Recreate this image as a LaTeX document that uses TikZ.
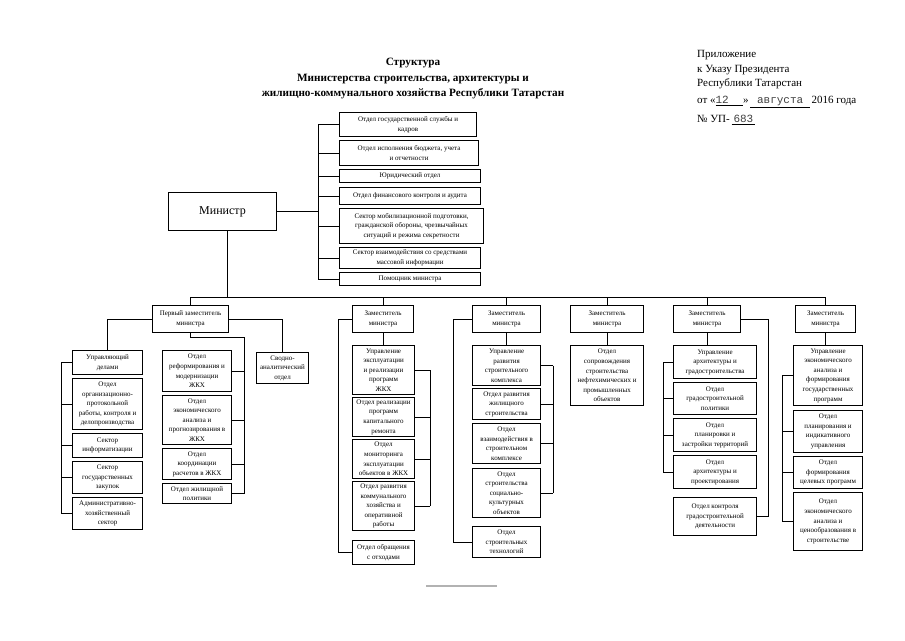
\documentclass[tikz,border=0pt]{standalone}
\usepackage{fontspec}
\setmainfont{Liberation Serif}
\newfontfamily\monof{Liberation Mono}
\newcommand{\obox}[6]{\node[box,minimum width={(#4-#2)*1pt},minimum height={(#5-#3)*1pt}] (#1) at (#2,#3) {#6};}
\begin{document}
\begin{tikzpicture}[x=1pt,y=-1pt,
  box/.style={draw,line width=1.1pt,align=center,inner sep=0.5pt,anchor=north west,font=\fontsize{7}{9.6}\selectfont},
  conn/.style={line width=0.8pt},
  hdr/.style={anchor=west,inner sep=0pt,font=\fontsize{11}{13}\selectfont}]
\useasboundingbox[fill=white] (0,0) rectangle (905,640);

% header
\node[font=\bfseries\fontsize{11.2}{15.5}\selectfont,align=center] (title) at (413,78.5)
  {Структура\\Министерства строительства, архитектуры и\\жилищно-коммунального хозяйства Республики Татарстан};
\node[hdr] (h1) at (697,55) {Приложение};
\node[hdr] (h2) at (697,70) {к Указу Президента};
\node[hdr] (h3) at (697,84) {Республики Татарстан};
\node[hdr] (h4) at (697,102) {от «\underline{\monof\color{darkgray}12\hspace{1.3em}}»\,\underline{\monof\color{darkgray}\ августа\ }\,2016 года};
\node[hdr] (h5) at (697,120) {№ УП-\,\underline{\monof\color{darkgray}\,683\,}};

% minister and staff units
\node[draw,line width=1.1pt,minimum width=108pt,minimum height=38pt,anchor=north west,font=\fontsize{12}{14}\selectfont] (min) at (168,192) {Министр};
\obox{t1}{339}{112}{476}{136}{Отдел государственной службы и\\кадров}
\obox{t2}{339}{140}{478}{165}{Отдел исполнения бюджета, учета\\и отчетности}
\obox{t3}{339}{169}{480}{182}{Юридический отдел}
\obox{t4}{339}{187}{480}{204}{Отдел финансового контроля и аудита}
\obox{t5}{339}{208}{483}{243}{Сектор мобилизационной подготовки,\\гражданской обороны, чрезвычайных\\ситуаций и режима секретности}
\obox{t6}{339}{247}{480}{268}{Сектор взаимодействия со средствами\\массовой информации}
\obox{t7}{339}{272}{480}{285}{Помощник министра}

% deputies
\obox{d1}{152}{305}{228}{332}{Первый заместитель\\министра}
\obox{d2}{352}{305}{413}{332}{Заместитель\\министра}
\obox{d3}{472}{305}{540}{332}{Заместитель\\министра}
\obox{d4}{570}{305}{643}{332}{Заместитель\\министра}
\obox{d5}{673}{305}{740}{332}{Заместитель\\министра}
\obox{d6}{795}{305}{855}{332}{Заместитель\\министра}

% column 1
\obox{ud}{72}{350}{142}{374}{Управляющий\\делами}
\obox{oo}{72}{378}{142}{429}{Отдел\\организационно-\\протокольной\\работы, контроля и\\делопроизводства}
\obox{si}{72}{433}{142}{457}{Сектор\\информатизации}
\obox{sg}{72}{461}{142}{493}{Сектор\\государственных\\закупок}
\obox{ah}{72}{497}{142}{529}{Административно-\\хозяйственный\\сектор}
\obox{rf}{162}{350}{231}{391}{Отдел\\реформирования и\\модернизации\\ЖКХ}
\obox{ea}{162}{395}{231}{444}{Отдел\\экономического\\анализа и\\прогнозирования в\\ЖКХ}
\obox{kr}{162}{448}{231}{479}{Отдел\\координации\\расчетов в ЖКХ}
\obox{zp}{162}{483}{231}{503}{Отдел жилищной\\политики}
\obox{sv}{256}{352}{308}{383}{Сводно-\\аналитический\\отдел}

% column 2
\obox{c2a}{352}{345}{414}{394}{Управление\\эксплуатации\\и реализации\\программ\\ЖКХ}
\obox{c2b}{352}{397}{414}{436}{Отдел реализации\\программ\\капитального\\ремонта}
\obox{c2c}{352}{439}{414}{478}{Отдел\\мониторинга\\эксплуатации\\объектов в ЖКХ}
\obox{c2d}{352}{481}{414}{530}{Отдел развития\\коммунального\\хозяйства и\\оперативной\\работы}
\obox{c2e}{352}{540}{414}{564}{Отдел обращения\\с отходами}

% column 3
\obox{c3a}{472}{345}{540}{385}{Управление\\развития\\строительного\\комплекса}
\obox{c3b}{472}{388}{540}{419}{Отдел развития\\жилищного\\строительства}
\obox{c3c}{472}{423}{540}{463}{Отдел\\взаимодействия в\\строительном\\комплексе}
\obox{c3d}{472}{468}{540}{517}{Отдел\\строительства\\социально-\\культурных\\объектов}
\obox{c3e}{472}{526}{540}{557}{Отдел\\строительных\\технологий}

% column 4
\obox{c4}{570}{345}{643}{405}{Отдел\\сопровождения\\строительства\\нефтехимических и\\промышленных\\объектов}

% column 5
\obox{c5a}{673}{345}{756}{378}{Управление\\архитектуры и\\градостроительства}
\obox{c5b}{673}{382}{756}{414}{Отдел\\градостроительной\\политики}
\obox{c5c}{673}{418}{756}{451}{Отдел\\планировки и\\застройки территорий}
\obox{c5d}{673}{455}{756}{488}{Отдел\\архитектуры и\\проектирования}
\obox{c5e}{673}{497}{756}{535}{Отдел контроля\\градостроительной\\деятельности}

% column 6
\obox{c6a}{793}{345}{862}{405}{Управление\\экономического\\анализа и\\формирования\\государственных\\программ}
\obox{c6b}{793}{410}{862}{452}{Отдел\\планирования и\\индикативного\\управления}
\obox{c6c}{793}{456}{862}{488}{Отдел\\формирования\\целевых программ}
\obox{c6d}{793}{492}{862}{550}{Отдел\\экономического\\анализа и\\ценообразования в\\строительстве}

% ---- connectors
\coordinate (tbus) at (318,0);
\draw[conn] (min.east) -- (min.east -| tbus);
\draw[conn] (t1.west -| tbus) -- (t7.west -| tbus);
\foreach \n in {t1,t2,t3,t4,t5,t6,t7} \draw[conn] (\n.west) -- (\n.west -| tbus);

\coordinate (bus) at (0,297);
\draw[conn] ([xshift=5pt]min.south) -- ([xshift=5pt]min.south |- bus);
\draw[conn] (d1.north |- bus) -- (d6.north |- bus);
\foreach \n in {d1,d2,d3,d4,d5,d6} \draw[conn] (\n.north) -- (\n.north |- bus);

% column 1
\draw[conn] (d1.west) -| (ud.north);
\coordinate (b1l) at (61,0);
\draw[conn] (ud.west -| b1l) -- (ah.west -| b1l);
\foreach \n in {ud,oo,si,sg,ah} \draw[conn] (\n.west) -- (\n.west -| b1l);
\coordinate (b1m) at (244,337);
\draw[conn] (d1.south) |- (b1m) -- (b1m |- zp.east);
\foreach \n in {rf,ea,kr,zp} \draw[conn] (\n.east) -- (\n.east -| b1m);
\draw[conn] (d1.east) -| (sv.north);

% column 2
\coordinate (b2l) at (338,0);
\coordinate (b2r) at (430,0);
\draw[conn] (d2.west) -| (b2l |- c2e.west) -- (c2e.west);
\draw[conn] (d2.south) -- (d2.south |- c2a.north);
\draw[conn] (c2a.east -| b2r) -- (c2d.east -| b2r);
\foreach \n in {c2a,c2b,c2c,c2d} \draw[conn] (\n.east) -- (\n.east -| b2r);

% column 3
\coordinate (b3l) at (453,0);
\coordinate (b3r) at (553,0);
\draw[conn] (d3.west) -| (b3l |- c3e.west) -- (c3e.west);
\draw[conn] (d3.south) -- (d3.south |- c3a.north);
\draw[conn] (c3a.east -| b3r) -- (c3d.east -| b3r);
\foreach \n in {c3a,c3b,c3c,c3d} \draw[conn] (\n.east) -- (\n.east -| b3r);

% column 4
\draw[conn] (d4.south) -- (d4.south |- c4.north);

% column 5
\coordinate (b5l) at (663,0);
\coordinate (b5r) at (768,0);
\draw[conn] (d5.south) -- (d5.south |- c5a.north);
\draw[conn] (c5a.west -| b5l) -- (c5d.west -| b5l);
\foreach \n in {c5a,c5b,c5c,c5d} \draw[conn] (\n.west) -- (\n.west -| b5l);
\draw[conn] (d5.east) -| (b5r |- c5e.east) -- (c5e.east);

% column 6
\coordinate (b6l) at (782,0);
\draw[conn] (d6.south) -- (d6.south |- c6a.north);
\draw[conn] (c6a.west -| b6l) -- (c6d.west -| b6l);
\foreach \n in {c6a,c6b,c6c,c6d} \draw[conn] (\n.west) -- (\n.west -| b6l);

% bottom rule
\draw[gray!60,line width=1.2pt] (426,586) -- (497,586);
\end{tikzpicture}
\end{document}
